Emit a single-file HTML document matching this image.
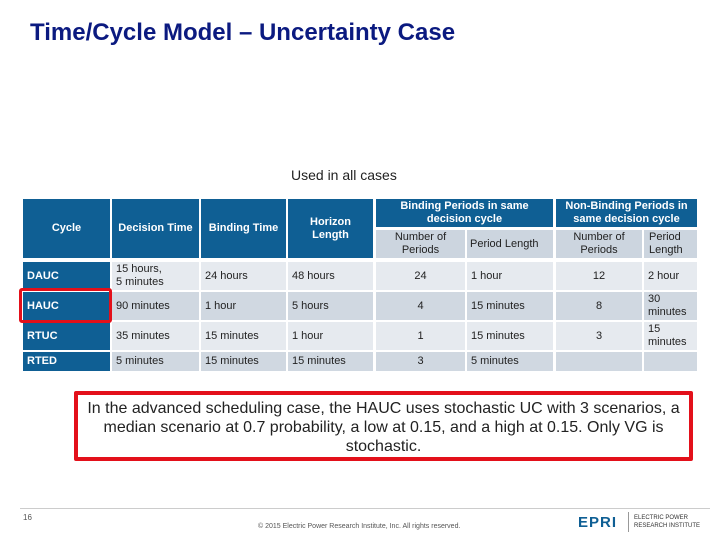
<!DOCTYPE html>
<html><head><meta charset="utf-8"><style>
body{margin:0;width:720px;height:540px;background:#fff;position:relative;overflow:hidden;font-family:"Liberation Sans",Arial,sans-serif}
.a{position:absolute;box-sizing:border-box;display:flex;align-items:center;font-size:11px;color:#222;line-height:13px}
.h{background:#0f5f94;color:#fff;font-weight:bold;justify-content:center;text-align:center}
.c{background:#0f5f94;color:#fff;font-weight:bold;padding-left:4px}
.l{background:#e6eaef;padding-left:4px}
.d{background:#d0d8e1;padding-left:4px}
.s{background:#ccd5df;justify-content:center;text-align:center}
.ctr{justify-content:center;padding-left:0}
</style></head><body>
<div style="position:absolute;left:30px;top:19px;font-size:24px;font-weight:bold;color:#0b1a80">Time/Cycle Model – Uncertainty Case</div>
<div style="position:absolute;left:291px;top:167px;font-size:14px;color:#222">Used in all cases</div>

<div>
<div class="a h" style="left:23px;top:199px;width:87px;height:59px">Cycle</div>
<div class="a h" style="left:112px;top:199px;width:87px;height:59px">Decision Time</div>
<div class="a h" style="left:201px;top:199px;width:85px;height:59px">Binding Time</div>
<div class="a h" style="left:288px;top:199px;width:85px;height:59px">Horizon<br>Length</div>
<div class="a h" style="left:376px;top:199px;width:177px;height:28px">Binding Periods in same<br>decision cycle</div>
<div class="a h" style="left:556px;top:199px;width:141px;height:28px">Non-Binding Periods in<br>same decision cycle</div>
<div class="a s" style="left:376px;top:230px;width:89px;height:28px">Number of<br>Periods</div>
<div class="a s" style="left:467px;top:230px;width:86px;height:28px;justify-content:flex-start;padding-left:3px">Period Length</div>
<div class="a s" style="left:556px;top:230px;width:86px;height:28px">Number of<br>Periods</div>
<div class="a s" style="left:644px;top:230px;width:53px;height:28px;justify-content:flex-start;text-align:left;padding-left:5px">Period<br>Length</div>

<div class="a c" style="left:23px;top:262px;width:87px;height:28px">DAUC</div>
<div class="a l" style="left:112px;top:262px;width:87px;height:28px">15 hours,<br>5 minutes</div>
<div class="a l" style="left:201px;top:262px;width:85px;height:28px">24 hours</div>
<div class="a l" style="left:288px;top:262px;width:85px;height:28px">48 hours</div>
<div class="a l ctr" style="left:376px;top:262px;width:89px;height:28px">24</div>
<div class="a l" style="left:467px;top:262px;width:86px;height:28px">1 hour</div>
<div class="a l ctr" style="left:556px;top:262px;width:86px;height:28px">12</div>
<div class="a l" style="left:644px;top:262px;width:53px;height:28px">2 hour</div>

<div class="a c" style="left:23px;top:292px;width:87px;height:28px">HAUC</div>
<div class="a d" style="left:112px;top:292px;width:87px;height:28px">90 minutes</div>
<div class="a d" style="left:201px;top:292px;width:85px;height:28px">1 hour</div>
<div class="a d" style="left:288px;top:292px;width:85px;height:28px">5 hours</div>
<div class="a d ctr" style="left:376px;top:292px;width:89px;height:28px">4</div>
<div class="a d" style="left:467px;top:292px;width:86px;height:28px">15 minutes</div>
<div class="a d ctr" style="left:556px;top:292px;width:86px;height:28px">8</div>
<div class="a d" style="left:644px;top:292px;width:53px;height:28px">30<br>minutes</div>

<div class="a c" style="left:23px;top:322px;width:87px;height:28px">RTUC</div>
<div class="a l" style="left:112px;top:322px;width:87px;height:28px">35 minutes</div>
<div class="a l" style="left:201px;top:322px;width:85px;height:28px">15 minutes</div>
<div class="a l" style="left:288px;top:322px;width:85px;height:28px">1 hour</div>
<div class="a l ctr" style="left:376px;top:322px;width:89px;height:28px">1</div>
<div class="a l" style="left:467px;top:322px;width:86px;height:28px">15 minutes</div>
<div class="a l ctr" style="left:556px;top:322px;width:86px;height:28px">3</div>
<div class="a l" style="left:644px;top:322px;width:53px;height:28px">15<br>minutes</div>

<div class="a c" style="left:23px;top:352px;width:87px;height:19px">RTED</div>
<div class="a d" style="left:112px;top:352px;width:87px;height:19px">5 minutes</div>
<div class="a d" style="left:201px;top:352px;width:85px;height:19px">15 minutes</div>
<div class="a d" style="left:288px;top:352px;width:85px;height:19px">15 minutes</div>
<div class="a d ctr" style="left:376px;top:352px;width:89px;height:19px">3</div>
<div class="a d" style="left:467px;top:352px;width:86px;height:19px">5 minutes</div>
<div class="a d" style="left:556px;top:352px;width:86px;height:19px"></div>
<div class="a d" style="left:644px;top:352px;width:53px;height:19px"></div>
</div>

<div style="position:absolute;left:19px;top:288px;width:93px;height:35px;box-sizing:border-box;border:3px solid #e3101a;border-radius:3px"></div>

<div style="position:absolute;left:74px;top:391px;width:619px;height:70px;box-sizing:border-box;border:4px solid #e3101a;border-radius:2px;font-size:16px;line-height:19px;color:#222;text-align:center;padding:4px 4px 0">In the advanced scheduling case, the HAUC uses stochastic UC with 3 scenarios, a median scenario at 0.7 probability, a low at 0.15, and a high at 0.15. Only VG is stochastic.</div>

<div style="position:absolute;left:20px;top:508px;width:690px;height:1px;background:#ccc"></div>
<div style="position:absolute;left:23px;top:513px;font-size:8px;color:#555">16</div>
<div style="position:absolute;left:258px;top:523px;font-size:7px;color:#555">© 2015 Electric Power Research Institute, Inc. All rights reserved.</div>
<div style="position:absolute;left:578px;top:514px;font-size:15px;font-weight:bold;color:#0f5f94;letter-spacing:1px">EPRI</div>
<div style="position:absolute;left:628px;top:512px;width:1px;height:20px;background:#999"></div>
<div style="position:absolute;left:634px;top:514px;font-size:6px;line-height:8px;color:#333">ELECTRIC POWER<br>RESEARCH INSTITUTE</div>
</body></html>
